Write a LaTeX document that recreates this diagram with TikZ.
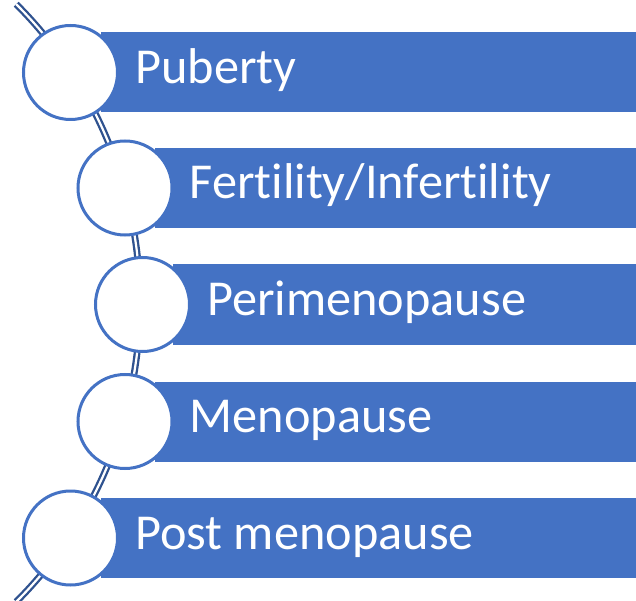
\documentclass[tikz,border=0pt]{standalone}
\usepackage{fontspec}
\setmainfont[Ligatures={NoCommon}]{Carlito}
\definecolor{barblue}{HTML}{4472C4}
\definecolor{railblue}{HTML}{2F528F}
\begin{document}
\begin{tikzpicture}[x=1pt,y=1pt,
  bar/.style={fill=barblue,draw=none,inner sep=0pt},
  stagecircle/.style={circle,draw=barblue,line width=3pt,fill=white,minimum size=94pt,inner sep=0pt},
  stagelabel/.style={text=white,font=\fontsize{50.3}{56}\selectfont,anchor=base west,inner sep=0pt},
  rail/.style={draw=railblue,line width=2.3pt,double=white,double distance=2.2pt}]
\useasboundingbox (0,0) rectangle (636,600);
\begin{scope}
\clip (0,0) rectangle (636,600);
% curved double rail carrying the circles
\draw[rail] (-282.6,297) ++(45:422.6) arc[start angle=45,end angle=-45,radius=422.6];
% bars
\foreach \n/\cx/\cy in {1/70.5/72.5,2/125/188,3/142.5/304.5,4/125/421.5,5/70.5/538}{
  \path[bar] (\cx+30,600-\cy-40) rectangle (636,600-\cy+40);
}
\end{scope}
% circles
\node[stagecircle] (c1) at (70.5,600-72.5) {};
\node[stagecircle] (c2) at (125,600-188) {};
\node[stagecircle] (c3) at (142.5,600-304.5) {};
\node[stagecircle] (c4) at (125,600-421.5) {};
\node[stagecircle] (c5) at (70.5,600-538) {};
% labels
\node[stagelabel] (t1) at (135,600-72.5-11) {Puberty};
\node[stagelabel] (t2) at (189.5,600-188-11) {Fertility/Infertility};
\node[stagelabel] (t3) at (207,600-304.5-11) {Perimenopause};
\node[stagelabel] (t4) at (189.5,600-421.5-11) {Menopause};
\node[stagelabel] (t5) at (135,600-538-11) {Post menopause};
\end{tikzpicture}
\end{document}
